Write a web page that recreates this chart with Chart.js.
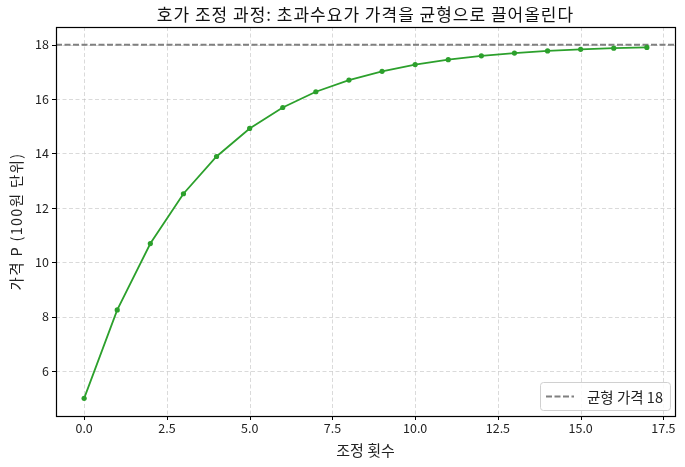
<!DOCTYPE html>
<html><head><meta charset="utf-8">
<script src="https://cdn.jsdelivr.net/npm/chart.js@4"></script>
<style>html,body{margin:0;padding:0;background:#fff}#wrap{width:685px;height:467px}</style>
</head><body><div id="wrap"><canvas id="c" width="685" height="467"></canvas></div>
<script>
const steps = [0,1,2,3,4,5,6,7,8,9,10,11,12,13,14,15,16,17];
const prices = [5.00,8.25,10.69,12.52,13.89,14.92,15.69,16.27,16.70,17.02,17.27,17.45,17.59,17.69,17.77,17.83,17.87,17.90];
const equilibrium = 18;
const xTicks = [0,2.5,5,7.5,10,12.5,15,17.5];
const yTicks = [6,8,10,12,14,16,18];
const xRange = [-0.85, 17.85];
const yRange = [4.35, 18.65];
const titleText = '호가 조정 과정: 초과수요가 가격을 균형으로 끌어올린다';
const yTitleText = '가격 P (100원 단위)';
const FONT = '"Noto Sans CJK KR", "Noto Sans", sans-serif';

const framePlugin = {
  id: 'mplFrame',
  beforeDatasetsDraw(chart) {
    const ctx = chart.ctx, a = chart.chartArea, xs = chart.scales.x, ys = chart.scales.y;
    ctx.save();
    ctx.strokeStyle = 'rgba(176,176,176,0.6)';
    ctx.lineWidth = 0.8;
    ctx.setLineDash([4,2.5]);
    xs.ticks.forEach(t => { const px = Math.round(xs.getPixelForValue(t.value)) + 0.5;
      ctx.beginPath(); ctx.moveTo(px, a.top); ctx.lineTo(px, a.bottom); ctx.stroke(); });
    ys.ticks.forEach(t => { const py = Math.round(ys.getPixelForValue(t.value)) + 0.5;
      ctx.beginPath(); ctx.moveTo(a.left, py); ctx.lineTo(a.right, py); ctx.stroke(); });
    ctx.restore();
  },
  afterDatasetsDraw(chart) {
    const ctx = chart.ctx, a = chart.chartArea, xs = chart.scales.x, ys = chart.scales.y;
    ctx.save();
    ctx.strokeStyle = '#000'; ctx.lineWidth = 1;
    xs.ticks.forEach(t => { const px = Math.round(xs.getPixelForValue(t.value)) + 0.5;
      ctx.beginPath(); ctx.moveTo(px, a.bottom); ctx.lineTo(px, a.bottom + 4); ctx.stroke(); });
    ys.ticks.forEach(t => { const py = Math.round(ys.getPixelForValue(t.value)) + 0.5;
      ctx.beginPath(); ctx.moveTo(a.left - 4, py); ctx.lineTo(a.left, py); ctx.stroke(); });
    ctx.lineWidth = 1.2;
    ctx.strokeRect(Math.round(a.left) + 0.5, Math.round(a.top) + 0.5, Math.round(a.right - a.left), Math.round(a.bottom - a.top));
    // title centred over plot area
    ctx.fillStyle = '#111'; ctx.font = '17px ' + FONT; ctx.textAlign = 'center'; ctx.textBaseline = 'middle';
    ctx.letterSpacing = '1px';
    ctx.fillText(titleText, (a.left + a.right) / 2, 15);
    // y axis title
    ctx.font = '14.5px ' + FONT; ctx.fillStyle = '#222'; ctx.letterSpacing = '1.3px';
    ctx.translate(16, (a.top + a.bottom) / 2); ctx.rotate(-Math.PI / 2);
    ctx.fillText(yTitleText, 0, 0);
    ctx.restore();
    // legend inside, lower right
    const ds = chart.data.datasets[1];
    ctx.save();
    ctx.font = '14.5px ' + FONT;
    const tw = ctx.measureText(ds.label).width;
    const w = 6 + 28 + 13 + tw + 7, h = 28;
    const x = Math.round(a.right - 5 - w), y = Math.round(a.bottom - 6 - h);
    ctx.fillStyle = 'rgba(255,255,255,0.85)';
    ctx.strokeStyle = '#d0d0d0'; ctx.lineWidth = 1;
    ctx.beginPath(); ctx.roundRect(x + 0.5, y + 0.5, w, h, 3); ctx.fill(); ctx.stroke();
    ctx.strokeStyle = ds.borderColor; ctx.lineWidth = ds.borderWidth; ctx.setLineDash(ds.borderDash);
    ctx.beginPath(); ctx.moveTo(x + 6, y + h/2 + 0.5); ctx.lineTo(x + 34, y + h/2 + 0.5); ctx.stroke();
    ctx.setLineDash([]);
    ctx.fillStyle = '#222'; ctx.textBaseline = 'middle';
    ctx.fillText(ds.label, x + 47, y + h/2 + 1);
    ctx.restore();
  }
};

new Chart(document.getElementById('c'), {
  type: 'line',
  data: {
    datasets: [
      { label: '가격', data: steps.map((s,i)=>({x:s,y:prices[i]})), borderColor:'#2ca02c', backgroundColor:'#2ca02c',
        borderWidth:1.8, pointRadius:2.6, pointHoverRadius:2.6, pointBorderWidth:0, tension:0 },
      { label: '균형 가격 ' + equilibrium, data: [{x:xRange[0],y:equilibrium},{x:xRange[1],y:equilibrium}],
        borderColor:'#808080', borderWidth:2, borderDash:[6,2.5], pointRadius:0, tension:0 }
    ]
  },
  options: {
    responsive:false, animation:false,
    layout:{ padding:{ top:27, right:10, left:8, bottom:8 } },
    plugins:{ legend:{ display:false }, tooltip:{ enabled:false }, title:{ display:false } },
    scales:{
      x:{ type:'linear', min:xRange[0], max:xRange[1],
        afterBuildTicks(s){ s.ticks = xTicks.map(v=>({value:v})); },
        afterFit(s){ s.height = 43; },
        ticks:{ color:'#222', font:{family:FONT,size:12.5}, padding:5, maxRotation:0, callback:v=>v.toFixed(1) },
        grid:{ display:false, drawTicks:false },
        border:{ display:false },
        title:{ display:true, text:'조정 횟수', color:'#222', font:{family:FONT,size:15}, padding:{top:0,bottom:0} }
      },
      y:{ type:'linear', min:yRange[0], max:yRange[1],
        afterBuildTicks(s){ s.ticks = yTicks.map(v=>({value:v})); },
        afterFit(s){ s.width = 48; },
        ticks:{ color:'#222', font:{family:FONT,size:12.5}, padding:7, callback:v=>String(v) },
        grid:{ display:false, drawTicks:false },
        border:{ display:false },
        title:{ display:false }
      }
    }
  },
  plugins:[framePlugin]
});
</script></body></html>
